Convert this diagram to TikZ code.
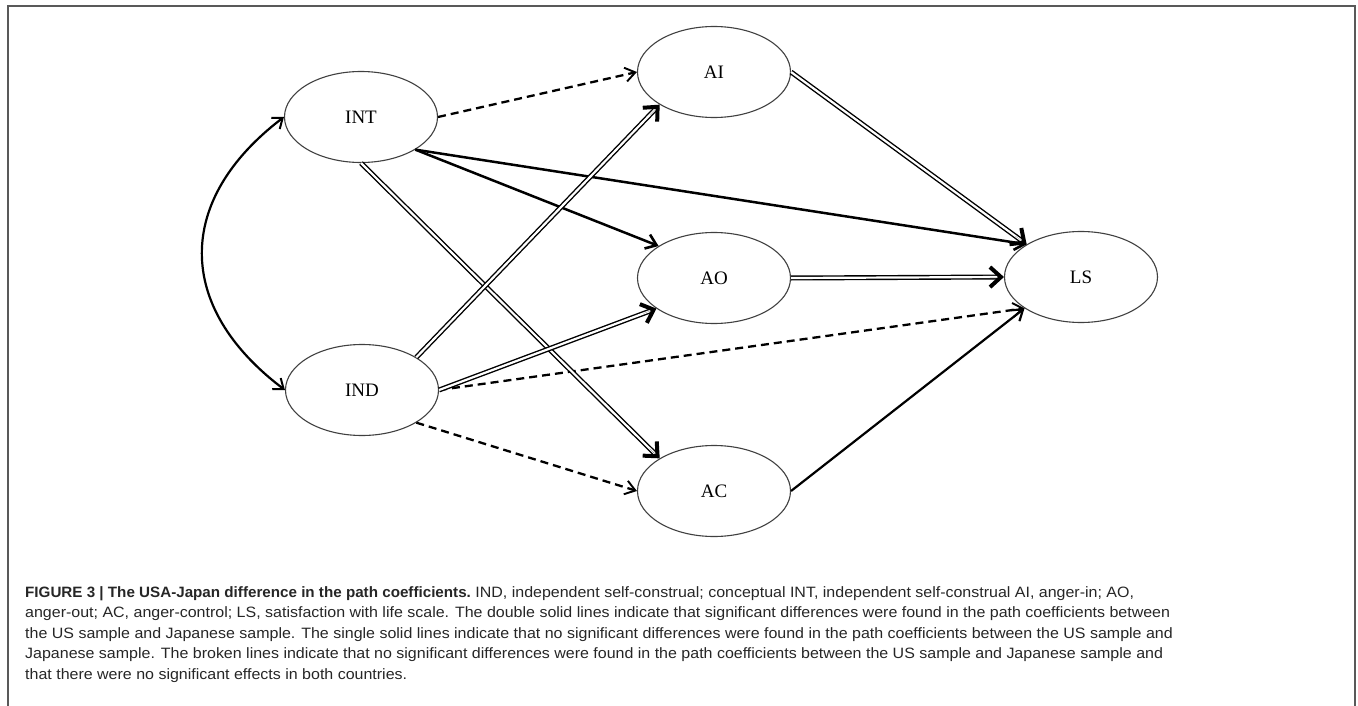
\documentclass[tikz,border=0pt]{standalone}
\usepackage{fontspec}
\usepackage{graphicx}
\setmainfont{Liberation Serif}
\newfontfamily\capfont{Liberation Sans}
\usetikzlibrary{arrows.meta,calc,shapes.geometric}
\newlength\capw
\begin{document}
\settowidth\capw{\capfont\fontsize{15}{18}\selectfont anger-out; AC, anger-control; LS, satisfaction with life scale. The double solid lines indicate that significant differences were found in the path coefficients between}%
\pgfmathsetmacro\capsx{1145/\capw}%
\begin{tikzpicture}[x=1pt,y=-1pt,
  var/.style={draw=black!75, line width=1.1pt, ellipse, minimum width=153pt, minimum height=91pt, inner sep=0pt, font=\fontsize{19}{20}\selectfont},
  dashedarrow/.style={line width=2.3pt, dash pattern=on 8pt off 5pt, -{Straight Barb[length=10pt,width=14pt,line width=1.9pt]}},
  solidarrow/.style={line width=2.5pt, -{Straight Barb[length=10pt,width=15pt,line width=2.6pt]}},
  thinarrow/.style={line width=2.2pt, -{Straight Barb[length=10pt,width=14pt,line width=2.2pt]}},
  dbl/.style={line width=1.4pt, double=white, double distance=2.2pt, shorten >=3pt},
  boldhead/.style={line width=0.01pt, -{Straight Barb[length=11pt,width=20pt,line width=4pt]}},
  curvearrow/.style={line width=2.2pt, {Straight Barb[length=9pt,width=14pt,line width=2pt]}-{Straight Barb[length=9pt,width=14pt,line width=2pt]}},
  capline/.style={anchor=base west, inner sep=0pt, text=black!85, font=\capfont\fontsize{15}{18}\selectfont}
]
\useasboundingbox (0,0) rectangle (1358,706);
\draw[black!65, line width=1.5pt] (8,706) -- (8,6) -- (1355,6) -- (1355,706);

\node[var] (INT) at (361,117) {INT};
\node[var] (IND) at (362,390) {IND};
\node[var] (AI) at (714,72) {AI};
\node[var] (AO) at (714,278) {AO};
\node[var] (AC) at (714,491) {AC};
\node[var] (LS) at (1081,277) {LS};

% dashed
\draw[dashedarrow] (INT.east) -- (AI.west);
\draw[dashedarrow] (IND.east) -- (LS.209);
\draw[dashedarrow] (IND.-31) -- (AC.west);

% single solid
\draw[solidarrow] (INT.-31) -- (LS.149);
\draw[solidarrow] (INT.-31) -- (AO.150);
\draw[thinarrow] (AC.east) -- (LS.209);

% double
\draw[dbl] (INT.south) -- (AC.149);
\draw[boldhead] ($(AC.149)!14pt!(INT.south)$) -- (AC.149);
\draw[dbl] (IND.31) -- (AI.211);
\draw[boldhead] ($(AI.211)!14pt!(IND.31)$) -- (AI.211);
\draw[dbl] (IND.east) -- (AO.208);
\draw[boldhead] ($(AO.208)!14pt!(IND.east)$) -- (AO.208);
\draw[dbl] (AI.east) -- (LS.149);
\draw[boldhead] ($(LS.149)!14pt!(AI.east)$) -- (LS.149);
\draw[dbl] (AO.east) -- (LS.west);
\draw[boldhead] ($(LS.west)!14pt!(AO.east)$) -- (LS.west);

% correlation
\draw[curvearrow] (INT.west) .. controls (175,200) and (175,307) .. (IND.west);

% caption
\node[capline] (c1) at (25,597) {\scalebox{\capsx}[1]{\scalebox{0.95}[1]{\textbf{FIGURE 3 | The USA-Japan difference in the path coefficients.}} IND, independent self-construal; conceptual INT, independent self-construal AI, anger-in; AO,}};
\node[capline] (c2) at (25,617.5) {\scalebox{\capsx}[1]{anger-out; AC, anger-control; LS, satisfaction with life scale. The double solid lines indicate that significant differences were found in the path coefficients between}};
\node[capline] (c3) at (25,638) {\scalebox{\capsx}[1]{the US sample and Japanese sample. The single solid lines indicate that no significant differences were found in the path coefficients between the US sample and}};
\node[capline] (c4) at (25,658.5) {\scalebox{\capsx}[1]{Japanese sample. The broken lines indicate that no significant differences were found in the path coefficients between the US sample and Japanese sample and}};
\node[capline] (c5) at (25,679) {\scalebox{\capsx}[1]{that there were no significant effects in both countries.}};
\end{tikzpicture}
\end{document}
